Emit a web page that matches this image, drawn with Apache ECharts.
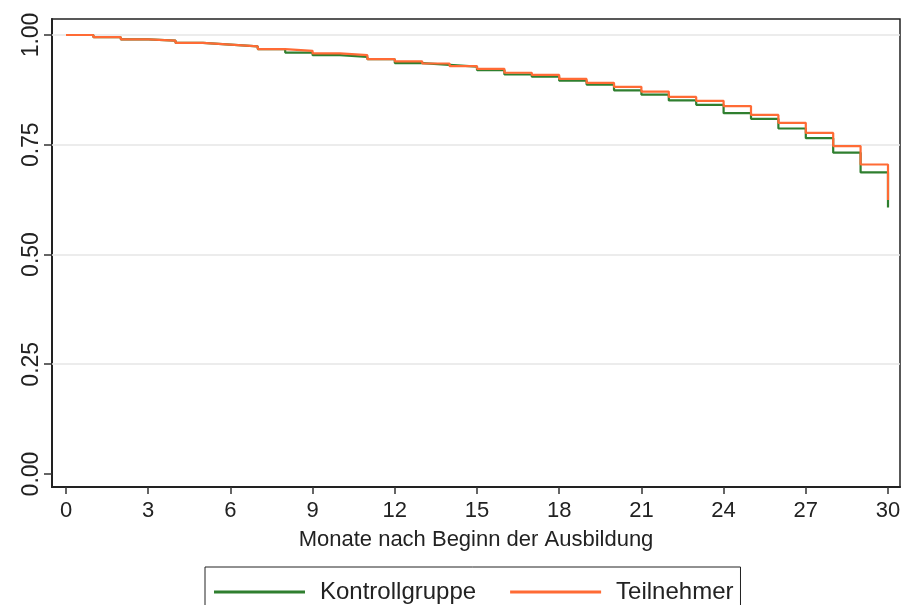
<!DOCTYPE html>
<html>
<head>
<meta charset="utf-8">
<style>
  html, body { margin: 0; padding: 0; background: #fff; }
  #chart { width: 904px; height: 605px; }
</style>
<script src="https://cdn.jsdelivr.net/npm/echarts@6/dist/echarts.min.js"></script>
</head>
<body>
<div id="chart"></div>
<script>
// Monate 0..30, Überlebensrate im Intervall [k, k+1)
const months = [0, 1, 2, 3, 4, 5, 6, 7, 8, 9, 10, 11, 12, 13, 14, 15,
  16, 17, 18, 19, 20, 21, 22, 23, 24, 25, 26, 27, 28, 29, 30]
const kontroll = [1.000, 0.995, 0.990, 0.987, 0.982, 0.978, 0.974, 0.968,
  0.960, 0.954, 0.950, 0.945, 0.936, 0.932, 0.928, 0.920, 0.910, 0.905,
  0.896, 0.887, 0.874, 0.864, 0.851, 0.841, 0.822, 0.809, 0.787, 0.765,
  0.732, 0.687, 0.607]
const teilnehmer = [1.000, 0.995, 0.990, 0.987, 0.982, 0.978, 0.974, 0.968,
  0.964, 0.958, 0.954, 0.945, 0.940, 0.935, 0.929, 0.923, 0.914, 0.909,
  0.900, 0.891, 0.882, 0.871, 0.859, 0.850, 0.838, 0.818, 0.800, 0.777,
  0.747, 0.705, 0.624]
const xTicks = [0, 3, 6, 9, 12, 15, 18, 21, 24, 27, 30]
const yTicks = [0, 0.25, 0.5, 0.75, 1]
const gridValues = [0.25, 0.5, 0.75, 1]

const font = "'Liberation Sans', Arial, sans-serif"

let myChart = echarts.init(document.getElementById('chart'))

myChart.setOption({
  animation: false,
  grid: {
    left: 52,
    right: 4,
    top: 19,
    bottom: 118,
    show: true,
    borderColor: '#222',
    borderWidth: 1.5
  },
  legend: {
    data: ['Kontrollgruppe', 'Teilnehmer'],
    left: 205,
    top: 567,
    padding: [13, 7, 13, 9],
    borderColor: '#222',
    borderWidth: 1,
    icon: 'rect',
    itemWidth: 91,
    itemHeight: 3,
    itemGap: 34,
    textStyle: {
      fontFamily: font,
      fontSize: 24,
      color: '#222',
      padding: [0, 0, 0, 10]
    }
  },
  xAxis: {
    type: 'value',
    min: -0.511,
    max: 30.438,
    name: 'Monate nach Beginn der Ausbildung',
    nameLocation: 'middle',
    nameGap: 42,
    nameTextStyle: { fontFamily: font, fontSize: 22, color: '#222' },
    axisLine: { show: true, onZero: false, lineStyle: { color: '#222', width: 2 } },
    axisTick: {
      show: true,
      length: 7,
      customValues: xTicks,
      lineStyle: { color: '#333', width: 1.5 }
    },
    axisLabel: {
      customValues: xTicks,
      fontFamily: font,
      fontSize: 22,
      color: '#222',
      margin: 13
    },
    splitLine: { show: false }
  },
  yAxis: {
    type: 'value',
    min: -0.0296,
    max: 1.0364,
    axisLine: { show: true, onZero: false, lineStyle: { color: '#222', width: 2 } },
    axisTick: {
      show: true,
      length: 8,
      customValues: yTicks,
      lineStyle: { color: '#333', width: 1.5 }
    },
    axisLabel: {
      customValues: yTicks,
      rotate: 90,
      fontFamily: font,
      fontSize: 23,
      color: '#222',
      margin: 9,
      formatter: v => v.toFixed(2)
    },
    splitLine: { show: false }
  },
  series: [
    {
      // nur Gitterlinien
      name: 'grid',
      type: 'line',
      data: [],
      z: 1,
      silent: true,
      markLine: {
        silent: true,
        z: 1,
        symbol: 'none',
        label: { show: false },
        lineStyle: { color: '#e6e6e6', width: 1.5, type: 'solid' },
        data: gridValues.map(v => ({ yAxis: v }))
      }
    },
    {
      name: 'Kontrollgruppe',
      type: 'line',
      step: 'end',
      symbol: 'none',
      z: 2,
      lineStyle: { color: '#2f7f2f', width: 2.2 },
      itemStyle: { color: '#2f7f2f' },
      data: months.map((m, i) => [m, kontroll[i]])
    },
    {
      name: 'Teilnehmer',
      type: 'line',
      step: 'end',
      symbol: 'none',
      z: 3,
      lineStyle: { color: '#ff6b35', width: 2.2 },
      itemStyle: { color: '#ff6b35' },
      data: months.map((m, i) => [m, teilnehmer[i]])
    }
  ]
})
</script>
</body>
</html>
